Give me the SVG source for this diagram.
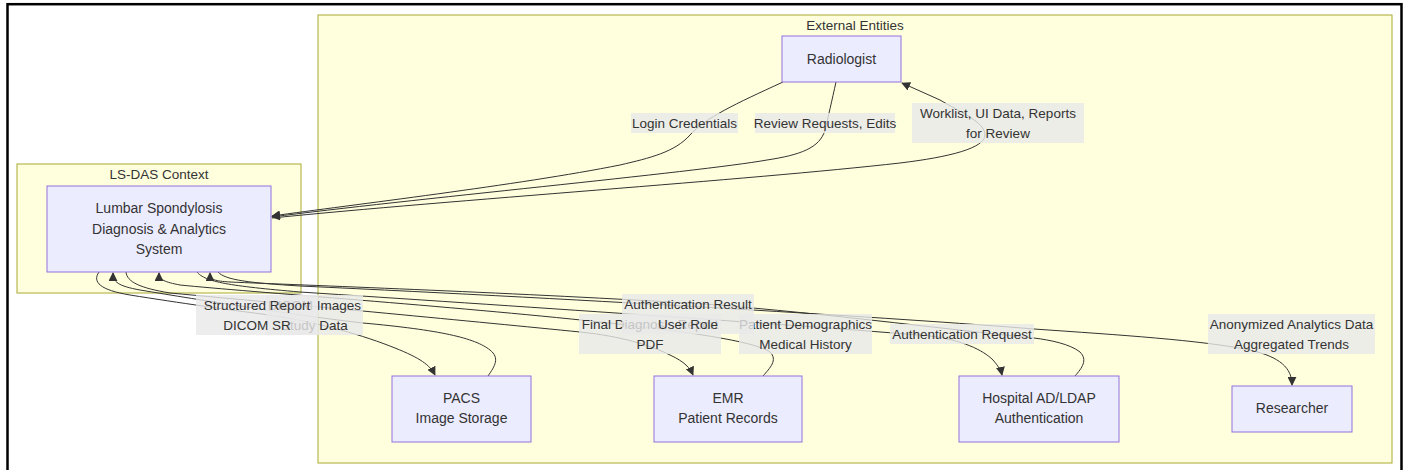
<svg xmlns="http://www.w3.org/2000/svg" width="1407" height="470" viewBox="0 0 1407 470">
<style>
.frame{fill:#ffffff;stroke:#000000;stroke-width:2.5}
.cluster{fill:#ffffde;stroke:#aaaa33;stroke-width:1}
.node{fill:#ececff;stroke:#9370db;stroke-width:1}
.edge{fill:none;stroke:#333333;stroke-width:1}
.lbl{fill:#e8e8e8;fill-opacity:0.8}
text{font-family:"Liberation Sans",Arial,sans-serif;fill:#333333;text-anchor:middle}
.nt{font-size:14px}
.et{font-size:13.5px}
.ct{font-size:13.5px}
</style>
<defs>
<marker id="arrow" viewBox="0 0 10 10" refX="9" refY="5" markerUnits="userSpaceOnUse" markerWidth="9" markerHeight="9" orient="auto">
<path d="M0,0 L10,5 L0,10 z" fill="#333333"/>
</marker>
</defs>
<rect class="frame" x="7.5" y="4.2" width="1394" height="500"/>
<g id="cluster-external">
<rect class="cluster" x="318" y="15" width="1074" height="448"/>
<text class="ct" x="855" y="29.5">External Entities</text>
</g>
<g id="cluster-lsdas">
<rect class="cluster" x="17" y="164" width="284" height="129"/>
<text class="ct" x="159" y="178.5">LS-DAS Context</text>
</g>
<g id="connectors">
<path class="edge" marker-end="url(#arrow)" d="M783,82 C735,104 705,118 690,135 C675,152 650,158 620,165 C520,185 350,205 272,216"/>
<path class="edge" marker-end="url(#arrow)" d="M836,82 C832,100 828,118 825,130 C820,148 800,155 767,160 C700,172 400,200 272,217"/>
<path class="edge" marker-end="url(#arrow)" d="M272,218 C450,200 750,180 900,163 C950,157 985,148 985,135 C985,122 960,112 940,100 L902,83"/>
<path class="edge" marker-end="url(#arrow)" d="M99,272 C92,282 100,290 130,295 C180,303 230,310 262,314 C320,322 365,336 395,348 C420,358 430,365 435,375"/>
<path class="edge" marker-end="url(#arrow)" d="M488,376 C495,366 500,358 490,350 C475,338 440,330 363,323 C300,316 200,300 140,290 C118,286 113,282 113,273"/>
<path class="edge" marker-end="url(#arrow)" d="M126,272 C127,282 140,288 170,293 C300,305 480,322 580,332 C620,336 650,345 670,355 C685,362 690,368 693,375"/>
<path class="edge" marker-end="url(#arrow)" d="M763,376 C770,368 778,360 770,352 C755,342 700,333 600,322 C450,306 250,292 180,285 C165,282 159,280 159,273"/>
<path class="edge" marker-end="url(#arrow)" d="M197,272 C205,282 230,286 300,292 C500,305 800,325 930,336 C962,340 983,350 993,360 C998,366 1001,370 1002,375"/>
<path class="edge" marker-end="url(#arrow)" d="M1075,376 C1082,368 1088,360 1080,352 C1070,344 1050,340 1034,338 C950,330 800,310 688,303 C500,292 300,285 230,282 C215,281 210,280 210,273"/>
<path class="edge" marker-end="url(#arrow)" d="M218,272 C225,280 250,283 300,286 C600,300 900,318 1034,329 C1120,335 1200,340 1250,350 C1280,357 1292,368 1292,385"/>
</g>
<g id="edge-labels">
<g id="label-login"><rect class="lbl" x="631" y="113" width="107" height="20"/><text class="et" x="684.5" y="127.5">Login Credentials</text></g>
<g id="label-review"><rect class="lbl" x="755" y="113" width="140" height="20"/><text class="et" x="825" y="127.5">Review Requests, Edits</text></g>
<g id="label-worklist"><rect class="lbl" x="912" y="103" width="172" height="40"/><text class="et" x="998" y="117.5">Worklist, UI Data, Reports</text><text class="et" x="998" y="137.5">for Review</text></g>
<g id="label-dicom"><rect class="lbl" x="266" y="295" width="97" height="40"/><text class="et" x="314.5" y="309.5">DICOM Images</text><text class="et" x="314.5" y="329.5">Study Data</text></g>
<g id="label-sr"><rect class="lbl" x="196" y="295" width="122" height="40"/><text class="et" x="257" y="309.5">Structured Report</text><text class="et" x="257" y="329.5">DICOM SR</text></g>
<g id="label-final"><rect class="lbl" x="579" y="314" width="142" height="40"/><text class="et" x="650" y="328.5">Final Diagnosis Report</text><text class="et" x="650" y="348.5">PDF</text></g>
<g id="label-patient"><rect class="lbl" x="739" y="314" width="133" height="40"/><text class="et" x="805.5" y="328.5">Patient Demographics</text><text class="et" x="805.5" y="348.5">Medical History</text></g>
<g id="label-authresult"><rect class="lbl" x="622" y="294" width="132" height="40"/><text class="et" x="688" y="308.5">Authentication Result</text><text class="et" x="688" y="328.5">User Role</text></g>
<g id="label-authreq"><rect class="lbl" x="890" y="324" width="144" height="20"/><text class="et" x="962" y="338.5">Authentication Request</text></g>
<g id="label-analytics"><rect class="lbl" x="1208" y="314" width="167" height="40"/><text class="et" x="1291.5" y="328.5">Anonymized Analytics Data</text><text class="et" x="1291.5" y="348.5">Aggregated Trends</text></g>
</g>
<g id="node-system"><rect class="node" x="47" y="186" width="224" height="86"/><text class="nt" x="159" y="213">Lumbar Spondylosis</text><text class="nt" x="159" y="234">Diagnosis &amp; Analytics</text><text class="nt" x="159" y="254">System</text></g>
<g id="node-radiologist"><rect class="node" x="782" y="36" width="119" height="46"/><text class="nt" x="841.5" y="63.5">Radiologist</text></g>
<g id="node-pacs"><rect class="node" x="392" y="376" width="139" height="66"/><text class="nt" x="461.5" y="403">PACS</text><text class="nt" x="461.5" y="423">Image Storage</text></g>
<g id="node-emr"><rect class="node" x="654" y="376" width="148" height="66"/><text class="nt" x="728" y="403">EMR</text><text class="nt" x="728" y="423">Patient Records</text></g>
<g id="node-ad"><rect class="node" x="959" y="376" width="160" height="66"/><text class="nt" x="1039" y="403">Hospital AD/LDAP</text><text class="nt" x="1039" y="423">Authentication</text></g>
<g id="node-researcher"><rect class="node" x="1232" y="386" width="120" height="46"/><text class="nt" x="1292" y="413">Researcher</text></g>
</svg>
